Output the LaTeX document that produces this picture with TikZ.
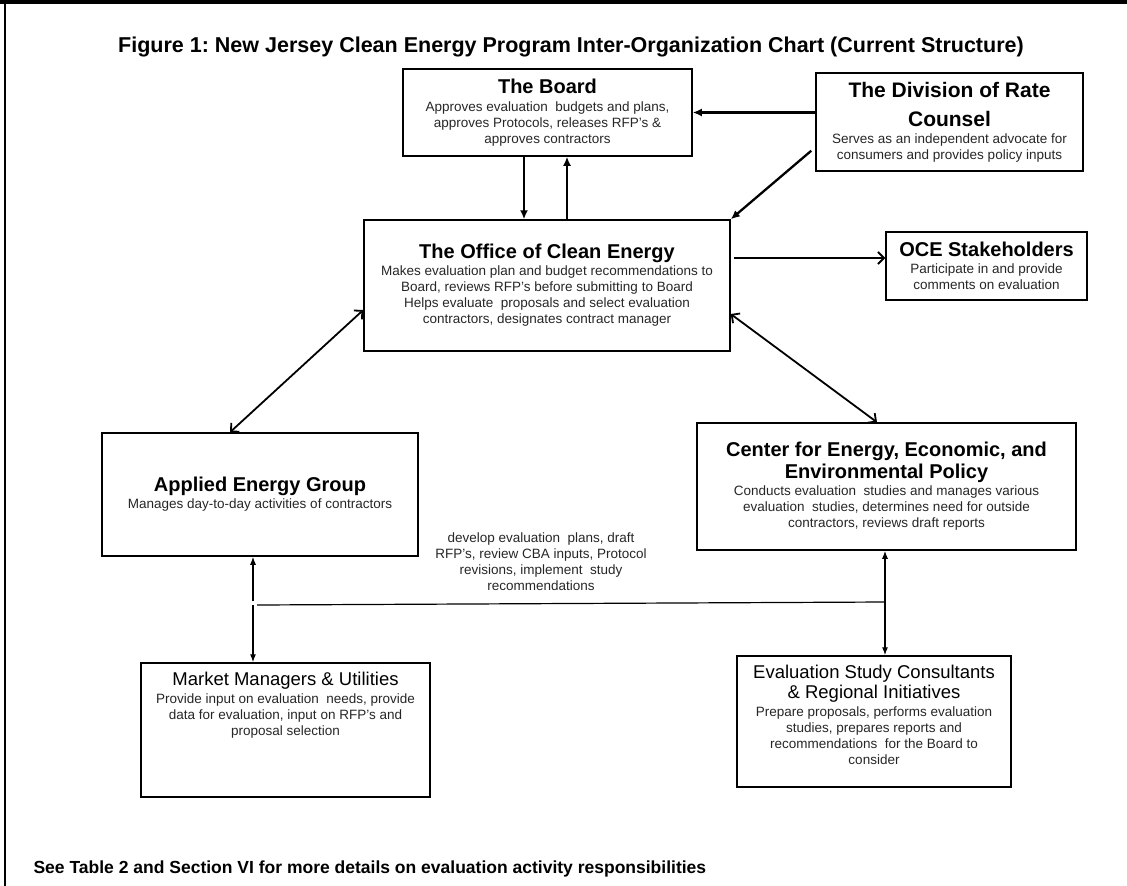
\documentclass[tikz,border=0pt]{standalone}
\usepackage{fontspec}
\setmainfont{Liberation Sans}
\frenchspacing
\usetikzlibrary{arrows.meta,positioning}
\tikzset{>=Latex}
\tikzset{
    box/.style 2 args={draw, line width=1.5pt, minimum width=#1, minimum height=#2,
        inner sep=0pt, align=center, font=\dsc},
    txt/.style={inner sep=0pt, align=center, font=\dsc},
    flow/.style={line width=2.3pt, -{Latex[length=9pt, width=8pt]}},
    opentip/.style={line width=1.8pt, -{Straight Barb[length=6pt, width=12pt]}},
    both/.style={line width=1.8pt, {Straight Barb[length=6pt, width=12pt]}-{Straight Barb[length=6pt, width=12pt]}},
    feed/.style={line width=1.2pt, -{Latex[length=8pt, width=6pt]}}
}
\newcommand{\dsc}{\fontsize{13.5}{16}\selectfont\color{black!85}}
\newcommand{\hd}[1]{{\fontsize{20}{22}\selectfont\bfseries\color{black} #1}}
\newcommand{\sh}[1]{{\fontsize{18.5}{21}\selectfont\color{black} #1}}

\begin{document}
\begin{tikzpicture}[x=1pt, y=-1pt]
    \useasboundingbox (0, 0) rectangle (1127, 886);
    % frame
    \draw[line width=4pt](0, 2)--(1127, 2);
    \draw[line width=1.5pt](5, 0)--(5, 886);
    \node[font=\fontsize{21.5}{24}\selectfont\bfseries] (title) at (571, 47)
        {Figure 1: New Jersey Clean Energy Program Inter-Organization Chart (Current Structure)};

    \node[box={289pt}{87pt}] (board) at (547.5, 112.5)
        {\hd{The Board}\\[2pt] Approves evaluation~ budgets and plans,\\ approves Protocols, releases RFP's \&\\ approves contractors};
    \node[box={267pt}{98pt}] (rate) at (949.5, 122)
        {\hd{\fontsize{21}{23}\selectfont The Division of Rate}\\[13pt] \hd{\fontsize{21}{23}\selectfont Counsel}\\[1pt] Serves as an independent advocate for\\ consumers and provides policy inputs};
    \node[box={366pt}{131pt}] (oce) at (547, 285.5)
        {\hd{The Office of Clean Energy}\\[1pt] Makes evaluation plan and budget recommendations to\\ Board, reviews RFP's before submitting to Board\\ Helps evaluate~ proposals and select evaluation\\ contractors, designates contract manager};
    \node[box={201pt}{68pt}] (stake) at (986.5, 266)
        {\hd{OCE Stakeholders}\\[1pt] Participate in and provide\\ comments on evaluation};
    \node[box={316pt}{123pt}] (aeg) at (260, 494.5)
        {\hd{Applied Energy Group}\\[1pt] Manages day-to-day activities of contractors};
    \node[box={379pt}{127pt}] (cee) at (886.5, 486.5)
        {\hd{Center for Energy, Economic, and}\\[2pt] \hd{Environmental Policy}\\[1pt] Conducts evaluation~ studies and manages various\\ evaluation~ studies, determines need for outside\\ contractors, reviews draft reports};
    \node[box={289pt}{134pt}] (mmu) at (285.5, 730) {};
    \node[txt, below=10pt of mmu.north] (mmu-t)
        {\sh{Market Managers \& Utilities}\\[2pt] Provide input on evaluation~ needs, provide\\ data for evaluation, input on RFP's and\\ proposal selection};
    \node[box={274pt}{131pt}] (esc) at (874, 721.5) {};
    \node[txt, below=10pt of esc.north] (esc-t)
        {\sh{Evaluation Study Consultants}\\[1pt] \sh{\& Regional Initiatives}\\[2pt] Prepare proposals, performs evaluation\\ studies, prepares reports and\\ recommendations~ for the Board to\\ consider};

    \node[txt] (tasks) at (541, 562)
        {develop evaluation~ plans, draft\\ RFP's, review CBA inputs, Protocol\\ revisions, implement~ study\\ recommendations};
    \node[anchor=west, font=\fontsize{17.5}{20}\selectfont\bfseries] (note) at (30, 869)
        {See Table 2 and Section VI for more details on evaluation activity responsibilities};

    % links between the offices
    \draw[flow](board.east -| rate.west)--(board.east);
    \draw[flow]([shift={(-4, -21)}]rate.south west)--(oce.north east);
    \draw[flow]([xshift=-23.5pt]board.south)--([xshift=-23.5pt]board.south |- oce.north);
    \draw[flow]([xshift=19.5pt]board.south |- oce.north)--([xshift=19.5pt]board.south);
    \draw[opentip]([shift={(3, 0)}]stake.west -| oce.east)++(0, -8)--([yshift=8pt]stake.west);
    \draw[both]([yshift=-24.5pt]oce.west)--([xshift=-30pt]aeg.north);
    \draw[both]([yshift=-28.5pt]oce.east)--([xshift=-9.5pt]cee.north);

    % coordination line
    \coordinate (jl) at (253, 605);
    \coordinate (jr) at (885, 602);
    \draw[feed]([yshift=4pt]jl)--(jl |- aeg.south);
    \draw[feed](jl)--(jl |- mmu.north);
    \draw[feed](jr)--(jr |- cee.south);
    \draw[feed](jr)--(jr |- esc.north);
    \draw[line width=1.2pt]([xshift=4pt]jl)--(jr);
\end{tikzpicture}
\end{document}
